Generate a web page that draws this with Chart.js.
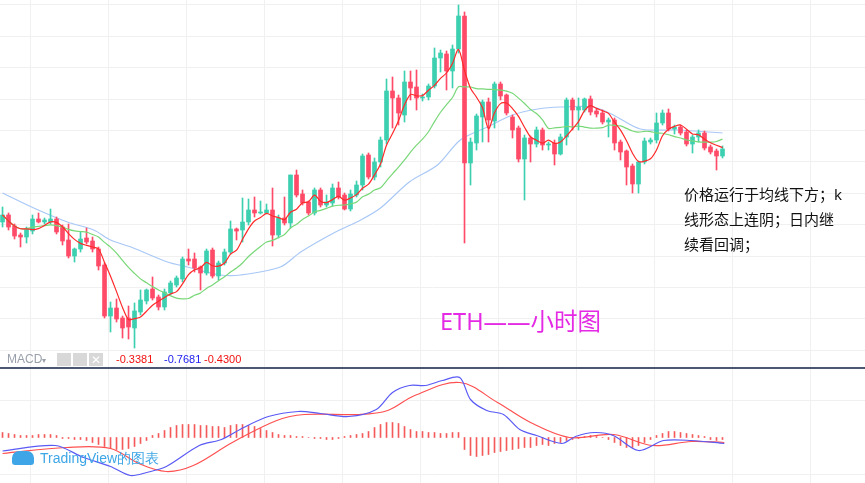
<!DOCTYPE html>
<html><head><meta charset="utf-8">
<script src="https://cdn.jsdelivr.net/npm/chart.js@4"></script>
<style>
body{margin:0;background:#fff;width:865px;height:483px;overflow:hidden;position:relative;font-family:"Noto Sans","Noto Sans CJK SC",sans-serif}
canvas{position:absolute;left:0}
#main{top:0}#macd{top:369px}
#sep{position:absolute;left:0;top:367px;width:865px;height:2px;background:#4b5672}
.t{position:absolute;white-space:nowrap}
</style></head><body>
<canvas id="main" width="865" height="367"></canvas>
<div id="sep"></div>
<canvas id="macd" width="865" height="114"></canvas>
<div class="t" style="left:7px;top:352px;font-size:12px;color:#9aa0aa;font-family:'Liberation Sans'">MACD<span style="font-size:8px">▾</span></div>
<div class="t" style="left:57px;top:353px;width:14px;height:13px;background:#d8d8d8"></div>
<div class="t" style="left:73px;top:353px;width:14px;height:13px;background:#d8d8d8"></div>
<div class="t" style="left:89px;top:353px;width:14px;height:13px;background:#d8d8d8;color:#fff;font-size:12px;text-align:center;line-height:13px">✕</div>
<div class="t" style="left:116px;top:353px;font-size:11px;color:#f01010;font-family:'Liberation Sans'">-0.3381</div>
<div class="t" style="left:164px;top:353px;font-size:11px;color:#2020f0;font-family:'Liberation Sans'">-0.7681</div>
<div class="t" style="left:204px;top:353px;font-size:11px;color:#f01010;font-family:'Liberation Sans'">-0.4300</div>
<div class="t" style="left:440px;top:303px;font-size:23.5px;color:#e42ae4">ETH——小时图</div>
<div class="t" style="left:684px;top:182px;font-size:15px;color:#111;line-height:25px">价格运行于均线下方；k<br>线形态上连阴；日内继<br>续看回调；</div>
<div class="t" style="left:12px;top:450px;font-size:14px;color:#3ea6e6;font-family:'Liberation Sans'"><span style="display:inline-block;width:22px;height:14px;background:#3ea6e6;border-radius:7px 7px 3px 3px;vertical-align:-2px;margin-right:6px"></span>TradingView的图表</div>
<script>
const opens=[178,185,174,165,163,169,181,178,178,181,173,160,144,151,162,159,151,135,84,92,82,82,72,88,99,111,103,93,107,115,121,141,141,133,127,150,124,137,148,171,170,178,190,187,187,190,165,182,177,225,206,198,187,210,195,197,212,205,191,205,215,245,223,238,260,309,302,285,318,313,302,303,314,342,346,329,351,384,237,257,283,298,279,316,305,283,272,241,262,256,270,255,257,246,263,300,290,290,301,289,287,278,280,258,249,234,216,238,258,260,277,287,271,273,268,256,263,267,253,249,244];
const closes=[185,173,164,163,171,181,178,180,181,168,159,144,151,161,158,151,134,84,92,81,72,73,89,100,110,102,93,108,117,122,141,139,132,127,149,124,137,148,171,169,178,190,187,188,190,165,182,177,225,205,197,187,210,195,198,212,203,191,206,215,244,223,238,260,309,302,287,318,312,302,303,314,342,347,329,351,384,237,258,284,298,280,316,304,287,270,241,262,256,270,255,256,246,263,300,290,293,301,288,286,278,280,257,248,233,216,238,259,260,277,287,271,273,267,256,263,267,252,248,244,251];
const highs=[193,187,176,167,173,185,187,182,191,183,175,176,152,168,172,163,153,137,98,101,84,94,97,110,111,123,105,111,119,124,143,151,147,134,151,152,139,151,179,172,202,201,203,199,196,212,185,203,225,230,210,199,212,212,205,216,218,207,210,219,246,247,242,263,321,323,305,329,329,330,306,316,352,350,349,355,395,388,262,286,300,302,318,318,306,285,274,265,264,273,272,258,260,266,302,302,302,302,304,291,290,282,282,260,250,236,239,262,262,287,290,291,275,275,270,265,270,269,255,251,254];
const lows=[173,170,161,153,157,166,177,176,176,166,155,142,138,148,156,148,130,82,68,78,62,61,52,85,96,100,90,90,105,113,118,135,128,110,125,122,120,135,146,160,158,175,183,186,186,154,162,175,172,203,195,185,185,193,193,194,201,190,189,203,210,221,220,233,256,272,275,278,300,290,299,300,312,328,310,312,347,157,215,250,258,258,272,300,285,262,238,200,238,253,250,250,235,245,255,270,270,288,285,283,276,263,250,240,215,207,207,236,256,257,275,269,266,265,254,247,258,250,246,230,242];
// long moving average (blue), read at sparse candle indices
const maLongIdx=[0,5.2,10.8,15.2,18,21.8,27.5,30.8,36.3,39.7,46.3,49.7,55.2,59.7,63,67.8,72.5,76.3,80.8,85,89.2,93,98.5,101.8,106.3,112.5,120];
const maLongVal=[207,192,178,170,160,152,138,133,125,125,133,148,167,180,192,218,235,260,273,285,291,293,293,285,271,270,267];
// MACD (DIF blue, DEA red) read at sparse candle indices; histogram per candle
const difIdx=[0,8.8,13.5,18,21.3,24,27.3,32.8,36.5,40.2,44.3,49.3,53,57.7,62.3,65,67.8,70.5,73.3,76.2,78,80.7,83.5,86.2,89,93.2,95.5,98.7,101.8,106,110.2,114.8,120.3];
const difVal=[-13.5,-8,-20,-29,-38,-35,-29,-8,-2,10,21,26,24,21,28,45,52,52,57,60,38,27,23,8,2,-6,1,5,2,-13,-3,-3,-6];
const deaIdx=[0,10.7,18,22.7,27.3,31.8,38.3,45.7,50.3,59.5,64.2,68.7,76.2,82.5,88,94.5,101.8,108.3,114.8,120.3];
const deaVal=[-16,-10,-11,-26,-34,-28,-5,17,23,23,27,42,55,35,15,0,3,-8,-4,-5];
const hist=[5,4,3,2,2,2,3,3,3,2,-1,-1,-2,-2,-3,-5,-7,-9,-11,-12,-12,-11,-9,-6,-3,2,4,7,10,12,13,13,13,12,12,11,11,10,12,13,13,12,11,9,7,5,3,2,2,1,1,0,-1,-1,-2,-2,-1,1,2,3,4,6,10,13,15,15,14,11,8,6,6,5,5,4,4,5,5,-12,-18,-19,-18,-17,-15,-14,-13,-12,-11,-10,-10,-8,-7,-8,-6,-5,-3,-2,-1,1,2,1,0,-2,-5,-8,-10,-10,-8,-5,-2,2,4,6,6,5,4,3,2,1,-2,-3,-2];
const gridXStart=11.2, gridXStep=13;
const gridYTop=395, gridYStep=31.4;

const UP='#3ccfb0', DN='#ff4a68';
const sma=(n)=>closes.map((c,i)=>{const s=closes.slice(Math.max(0,i-n+1),i+1);return s.reduce((a,b)=>a+b,0)/s.length;});
const ma1=sma(5), ma2=sma(15);
const cols=opens.map((o,i)=>closes[i]>=o?UP:DN);
const xTicks=[];for(let v=gridXStart;v<144;v+=gridXStep)xTicks.push({value:v});
const noFit=s=>{if(s.isHorizontal())s.height=0;else s.width=0;};
const xAxis={type:'linear',min:-0.42,max:143.75,offset:false,grid:{color:'#f0f0f0',drawTicks:false},border:{display:false},ticks:{display:false},afterBuildTicks:a=>{a.ticks=xTicks.map(t=>({...t}));},afterFit:noFit};
const base={responsive:false,animation:false,devicePixelRatio:1,layout:{padding:0},plugins:{legend:{display:false},tooltip:{enabled:false}}};

const mainYTicks=[];for(let v=gridYTop;v>30;v-=gridYStep)mainYTicks.push({value:v});
new Chart(document.getElementById('main'),{
 type:'bar',
 data:{datasets:[
  {type:'line',data:maLongIdx.map((x,i)=>({x,y:maLongVal[i]})),borderColor:'#a9c8f6',borderWidth:1.2,pointRadius:0,tension:0.3,order:5},
  {data:opens.map((o,i)=>({x:i,y:[lows[i],highs[i]]})),backgroundColor:cols,barThickness:1,grouped:false,order:4},
  {data:opens.map((o,i)=>({x:i,y:[o,closes[i]===o?o+1:closes[i]]})),backgroundColor:cols,barThickness:4,grouped:false,order:3},
  {type:'line',data:ma2.map((y,i)=>({x:i,y})),borderColor:'#78d878',borderWidth:1.2,pointRadius:0,tension:0.3,order:2},
  {type:'line',data:ma1.map((y,i)=>({x:i,y})),borderColor:'#ff2a2a',borderWidth:1.2,pointRadius:0,tension:0.3,order:1}
 ]},
 options:{...base,scales:{x:xAxis,y:{min:33,max:400,grid:{color:'#f0f0f0',drawTicks:false},border:{display:false},ticks:{display:false},afterBuildTicks:a=>{a.ticks=mainYTicks.map(t=>({...t}));},afterFit:noFit}}}
});
new Chart(document.getElementById('macd'),{
 type:'bar',
 data:{datasets:[
  {data:hist.map((h,i)=>({x:i,y:[0,h]})),backgroundColor:'#f45a5a',barThickness:1,grouped:false,order:3},
  {type:'line',data:deaIdx.map((x,i)=>({x,y:deaVal[i]})),borderColor:'#ff5050',borderWidth:1.2,pointRadius:0,tension:0.35,order:2},
  {type:'line',data:difIdx.map((x,i)=>({x,y:difVal[i]})),borderColor:'#5a5af5',borderWidth:1.2,pointRadius:0,tension:0.3,order:1}
 ]},
 options:{...base,scales:{x:xAxis,y:{min:-45.5,max:68.5,grid:{color:'#f0f0f0',drawTicks:false},border:{display:false},ticks:{display:false},afterBuildTicks:a=>{a.ticks=[{value:-37},{value:37}];},afterFit:noFit}}}
});
</script></body></html>
